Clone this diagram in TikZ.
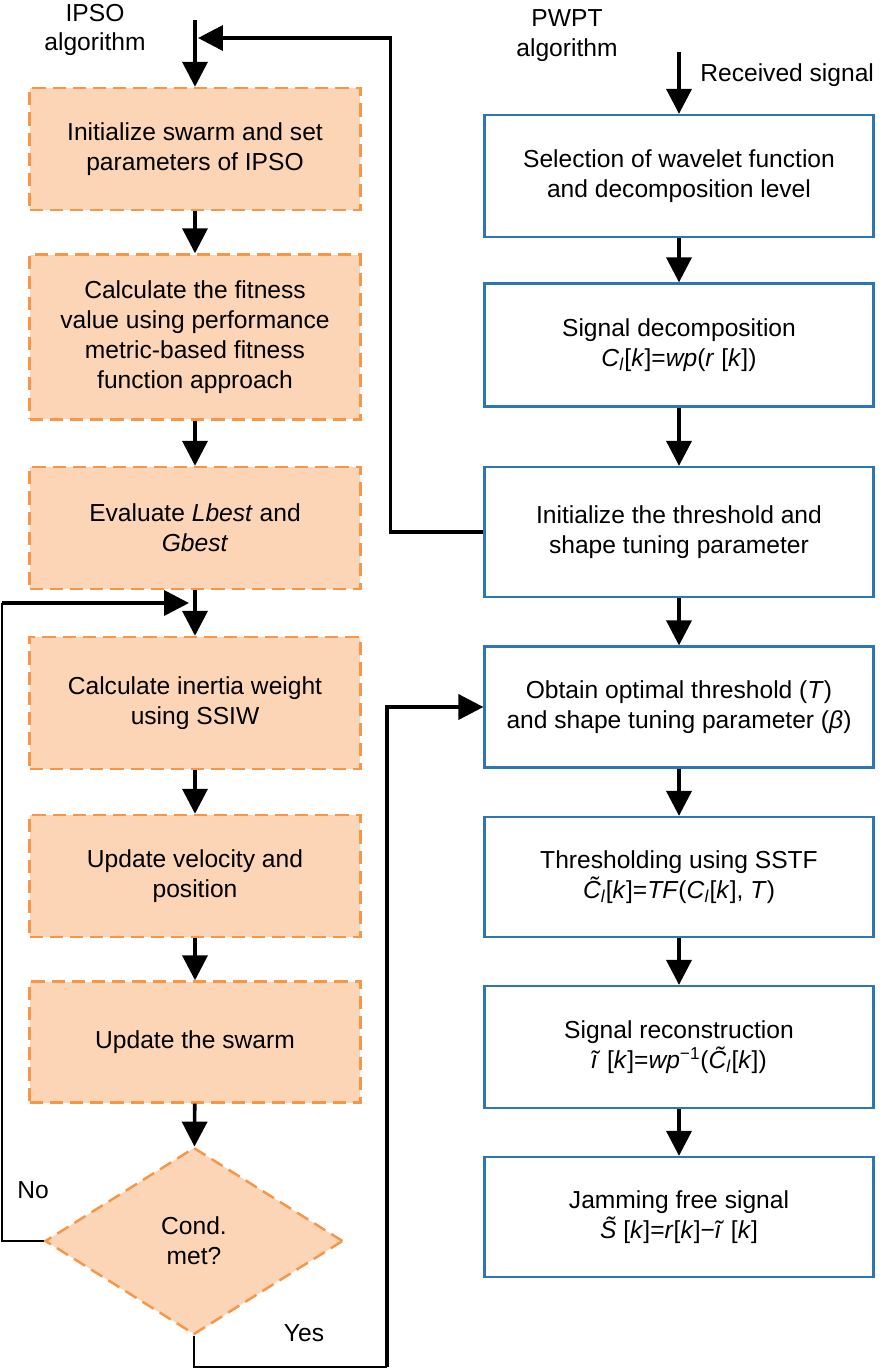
\documentclass[tikz,border=0pt]{standalone}
\usepackage{fontspec}
\setmainfont{Liberation Sans}
\usetikzlibrary{arrows.meta,shapes.geometric}
\definecolor{IPSOfill}{RGB}{251,213,181}
\definecolor{IPSOline}{RGB}{247,150,70}
\definecolor{PWPTblue}{RGB}{46,117,182}

% italic variable and its subscript
\newcommand{\var}[1]{\textit{#1}}
\newcommand{\lsub}{\textsubscript{\textit{l}}}

\tikzset{
    ipsobox/.style={draw=IPSOline, fill=IPSOfill, line width=1.4pt,
        dash pattern=on 7.5pt off 4pt, minimum width=6.62cm, align=center, inner sep=0pt},
    pwptbox/.style={draw=PWPTblue, line width=1.3pt, minimum width=7.78cm,
        align=center, inner sep=0pt},
    condbox/.style={diamond, draw=IPSOline, fill=IPSOfill, line width=1.4pt,
        dash pattern=on 7.5pt off 4pt, minimum width=5.96cm, minimum height=3.74cm,
        align=center, inner sep=0pt},
    flow/.style={line width=2.1pt, -{Triangle[length=0.5cm, width=0.5cm]}},
    link/.style={line width=1.2pt},
    plain/.style={align=center, inner sep=0pt}
}

\begin{document}
\begin{tikzpicture}[x=0.02cm, y=-0.02cm,
    every node/.style={font=\fontsize{14}{17}\selectfont}]
    \useasboundingbox (0,0) rectangle (886,1370);

    % Column titles
    \node[plain] (ipsolabel) at (95,30) {IPSO\\algorithm};
    \node[plain] (pwptlabel) at (567,36) {PWPT\\algorithm};
    \node[plain, anchor=west] (rxlabel) at (700,75) {Received signal};

    % IPSO algorithm (left column)
    \node[ipsobox, minimum height=2.44cm] (b1) at (195,149) {Initialize swarm and set\\parameters of IPSO};
    \node[ipsobox, minimum height=3.3cm] (b2) at (195,337) {Calculate the fitness\\value using performance\\metric-based fitness\\function approach};
    \node[ipsobox, minimum height=2.44cm] (b3) at (195,528) {Evaluate \var{Lbest} and\\\var{Gbest}};
    \node[ipsobox, minimum height=2.64cm] (b4) at (195,703) {Calculate inertia weight\\using SSIW};
    \node[ipsobox, minimum height=2.44cm] (b5) at (195,876) {Update velocity and\\position};
    \node[ipsobox, minimum height=2.42cm] (b6) at (195,1042) {Update the swarm};
    \node[condbox] (cond) at (194,1241) {Cond.\\met?};

    % PWPT algorithm (right column)
    \node[pwptbox, minimum height=2.44cm] (r1) at (679,176) {Selection of wavelet function\\and decomposition level};
    \node[pwptbox, minimum height=2.46cm] (r2) at (679,345) {Signal decomposition\\\var{C}\lsub[\var{k}]=\var{wp}(\var{r} [\var{k}])};
    \node[pwptbox, minimum height=2.6cm] (r3) at (679,532) {Initialize the threshold and\\shape tuning parameter};
    \node[pwptbox, minimum height=2.42cm] (r4) at (679,707) {Obtain optimal threshold (\var{T})\\and shape tuning parameter (\var{β})};
    \node[pwptbox, minimum height=2.4cm] (r5) at (679,877) {Thresholding using SSTF\\\var{\~{C}}\lsub[\var{k}]=\var{TF}(\var{C}\lsub[\var{k}], \var{T})};
    \node[pwptbox, minimum height=2.44cm] (r6) at (679,1047) {Signal reconstruction\\\var{\~{i}} [\var{k}]=\var{wp}\textsuperscript{−1}(\var{\~{C}}\lsub[\var{k}])};
    \node[pwptbox, minimum height=2.4cm] (r7) at (679,1217) {Jamming free signal\\\var{\~{S}} [\var{k}]=\var{r}[\var{k}]−\var{\~{i}} [\var{k}]};

    % Branch labels
    \node (nolabel) at (33,1190) {No};
    \node (yeslabel) at (304,1333) {Yes};

    % Free ends of the connectors
    \coordinate (ipsostart) at (195,20);
    \coordinate (rxstart) at (679,52);
    \coordinate (fbtip) at (198,38);
    \coordinate (nocorner) at (2,603);
    \coordinate (notip) at (189,603);
    \coordinate (yescorner) at (387,1367);

    % Main flow of both columns
    \draw[flow] (ipsostart) -- (b1);
    \draw[flow] (b1) -- (b2);
    \draw[flow] (b2) -- (b3);
    \draw[flow] (b3) -- (b4);
    \draw[flow] (b4) -- (b5);
    \draw[flow] (b5) -- (b6);
    \draw[flow] (b6) -- (cond);
    \draw[flow] (rxstart) -- (r1);
    \draw[flow] (r1) -- (r2);
    \draw[flow] (r2) -- (r3);
    \draw[flow] (r3) -- (r4);
    \draw[flow] (r4) -- (r5);
    \draw[flow] (r5) -- (r6);
    \draw[flow] (r6) -- (r7);

    % Feedback into IPSO
    \draw[flow] (r3.west) -- ++(-93,0) |- (fbtip);

    % No: back to the loop
    \draw[link] (cond.west) -| (nocorner);
    \draw[flow] (nocorner) -- (notip);

    % Yes: optimal values to PWPT
    \draw[link] (cond.south) |- (yescorner);
    \draw[flow] (yescorner) |- (r4.west);
\end{tikzpicture}
\end{document}
